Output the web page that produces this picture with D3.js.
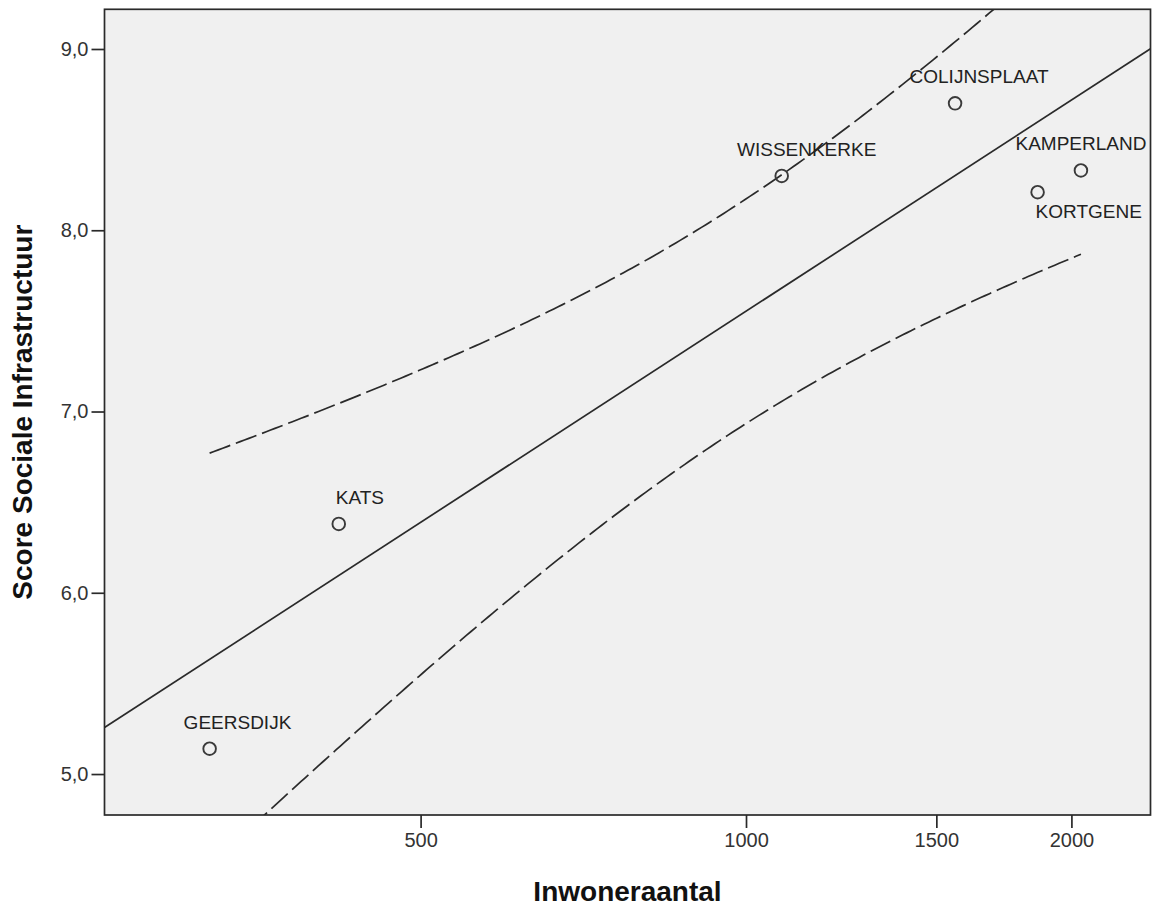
<!DOCTYPE html>
<html><head><meta charset="utf-8">
<script src="https://cdn.jsdelivr.net/npm/d3@7"></script>
<style>
body{margin:0;background:#fff;}
text{font-family:"Liberation Sans",Arial,sans-serif;}
</style>
</head><body>
<svg id="c" width="1154" height="906"></svg>
<script>
// ---- data ----
const places   = ["GEERSDIJK","KATS","WISSENKERKE","COLIJNSPLAAT","KAMPERLAND","KORTGENE"];
const inwoners = [319, 420, 1079, 1561, 2041, 1861];
const scores   = [5.14, 6.38, 8.30, 8.70, 8.33, 8.21];
const xTicks   = [500, 1000, 1500, 2000];
const yTicks   = [5, 6, 7, 8, 9];
const xTitle   = "Inwoneraantal";
const yTitle   = "Score Sociale Infrastructuur";
const xDomain  = [255, 2367];
const yDomain  = [4.774, 9.219];

// ---- layout ----
const L = 104.5, R = 1150.5, T = 9.3, B = 815;
const labelPlace = {
  GEERSDIJK:[-26,-20,"start"], KATS:[-3,-20,"start"], WISSENKERKE:[25,-20,"middle"],
  COLIJNSPLAAT:[24,-20,"middle"], KAMPERLAND:[0,-20,"middle"], KORTGENE:[-2,26,"start"]
};
const ink = "#2a2a2a";

const svg = d3.select("#c");
const x = d3.scaleLog().domain(xDomain).range([L, R]);
const y = d3.scaleLinear().domain(yDomain).range([B, T]);

svg.append("defs").append("clipPath").attr("id","clip")
  .append("rect").attr("x",L).attr("y",T).attr("width",R-L).attr("height",B-T);

svg.append("rect").attr("x",L).attr("y",T).attr("width",R-L).attr("height",B-T)
  .attr("fill","#f0f0f0");

// regression on log10(x)
const pts = inwoners.map((v,i)=>({lx:Math.log10(v), y:scores[i]}));
const n = pts.length;
const mx = d3.mean(pts,d=>d.lx), my = d3.mean(pts,d=>d.y);
const sxx = d3.sum(pts,d=>(d.lx-mx)**2);
const sxy = d3.sum(pts,d=>(d.lx-mx)*(d.y-my));
const b = sxy/sxx, a = my - b*mx;
const sse = d3.sum(pts,d=>(d.y-(a+b*d.lx))**2);
const s = Math.sqrt(sse/(n-2));
const tcrit = 2.776; // t(0.975, df=4)

const g = svg.append("g").attr("clip-path","url(#clip)");
const fit = lx => a + b*lx;
const lx0 = Math.log10(xDomain[0]), lx1 = Math.log10(xDomain[1]);
g.append("line")
  .attr("x1",x(xDomain[0])).attr("y1",y(fit(lx0)))
  .attr("x2",x(xDomain[1])).attr("y2",y(fit(lx1)))
  .attr("stroke",ink).attr("stroke-width",1.7);

const lmin = d3.min(pts,d=>d.lx), lmax = d3.max(pts,d=>d.lx);
const samp = d3.range(0,201).map(i=>lmin+(lmax-lmin)*i/200);
const hw = lx => tcrit*s*Math.sqrt(1/n + (lx-mx)**2/sxx);
const line = d3.line().x(d=>x(10**d[0])).y(d=>y(d[1]));
[1,-1].forEach(sg=>{
  g.append("path")
   .attr("d", line(samp.map(lx=>[lx, fit(lx)+sg*hw(lx)])))
   .attr("fill","none").attr("stroke",ink).attr("stroke-width",1.7)
   .attr("stroke-dasharray","22,6");
});

// points
svg.append("g").selectAll("circle").data(places).join("circle")
  .attr("cx",(d,i)=>x(inwoners[i])).attr("cy",(d,i)=>y(scores[i]))
  .attr("r",6.3).attr("fill","none").attr("stroke","#3a3a3a").attr("stroke-width",1.9);

svg.append("g").selectAll("text").data(places).join("text")
  .attr("x",(d,i)=>x(inwoners[i])+labelPlace[d][0])
  .attr("y",(d,i)=>y(scores[i])+labelPlace[d][1])
  .attr("text-anchor",d=>labelPlace[d][2])
  .attr("font-size",19).attr("fill","#222")
  .text(d=>d);

// border
svg.append("rect").attr("x",L).attr("y",T).attr("width",R-L).attr("height",B-T)
  .attr("fill","none").attr("stroke",ink).attr("stroke-width",1.7);

// axes
const fmtY = v => d3.format(".1f")(v).replace(".",",");
const ax = svg.append("g").attr("transform",`translate(0,${B})`)
  .call(d3.axisBottom(x).tickValues(xTicks).tickFormat(d3.format("d")).tickSize(13).tickPadding(5));
const ay = svg.append("g").attr("transform",`translate(${L},0)`)
  .call(d3.axisLeft(y).tickValues(yTicks).tickFormat(fmtY).tickSize(13).tickPadding(3));
[ax,ay].forEach(gg=>{
  gg.select(".domain").remove();
  gg.selectAll(".tick line").attr("stroke",ink).attr("stroke-width",1.7);
  gg.selectAll(".tick text").attr("fill","#333").attr("font-size",20)
    .attr("font-family","'Liberation Sans',Arial,sans-serif");
});

svg.append("text").attr("x",(L+R)/2).attr("y",901).attr("text-anchor","middle")
  .attr("font-size",28).attr("font-weight","bold").attr("fill","#111").text(xTitle);
svg.append("text").attr("transform",`translate(32,${(T+B)/2}) rotate(-90)`)
  .attr("text-anchor","middle").attr("font-size",28).attr("font-weight","bold")
  .attr("fill","#111").text(yTitle);
</script>
</body></html>
